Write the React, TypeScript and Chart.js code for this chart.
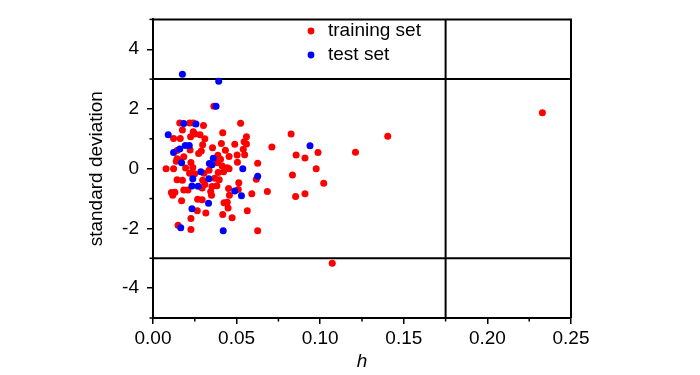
import React, { useEffect, useRef } from "react";
import { Chart, registerables } from "chart.js";

Chart.register(...registerables);

const trainH = [0.0364, 0.0524, 0.016, 0.0219, 0.0241, 0.0302, 0.0176, 0.0241, 0.0251, 0.0281, 0.0417, 0.0225, 0.0123, 0.0163, 0.031, 0.0559, 0.0826, 0.1404, 0.0545, 0.0409, 0.0489, 0.0559, 0.0297, 0.054, 0.0356, 0.0433, 0.0222, 0.0711, 0.0289, 0.0273, 0.0144, 0.0184, 0.0144, 0.0548, 0.0503, 0.0455, 0.0856, 0.0987, 0.1211, 0.0909, 0.2329, 0.0139, 0.0227, 0.0404, 0.0385, 0.0505, 0.0626, 0.0195, 0.0238, 0.0414, 0.0444, 0.0455, 0.0976, 0.0219, 0.0249, 0.0305, 0.039, 0.0422, 0.0834, 0.0144, 0.0176, 0.0297, 0.0369, 0.0396, 0.0618, 0.0513, 0.1021, 0.031, 0.0382, 0.0353, 0.0184, 0.0209, 0.0294, 0.0452, 0.051, 0.0345, 0.011, 0.0131, 0.0118, 0.0684, 0.0591, 0.0909, 0.035, 0.0457, 0.0853, 0.0171, 0.0267, 0.0294, 0.0425, 0.0444, 0.0449, 0.0265, 0.0316, 0.0564, 0.0417, 0.0227, 0.0473, 0.015, 0.0227, 0.0626, 0.1072, 0.0078, 0.0123, 0.0388, 0.0165, 0.0335];
const trainSD = [2.09, 1.52, 1.53, 1.53, 1.53, 1.45, 1.30, 1.24, 1.16, 1.14, 1.20, 1.07, 1.01, 1.01, 1.0, 1.07, 1.16, 1.09, 0.90, 0.84, 0.82, 0.83, 0.80, 0.65, 0.70, 0.62, 0.63, 0.73, 0.59, 0.51, 0.61, 0.40, 0.33, 0.47, 0.46, 0.41, 0.46, 0.54, 0.55, 0.36, 1.87, 0.25, 0.21, 0.32, 0.20, 0.22, 0.18, 0.02, 0.04, 0.09, 0.03, 0.0, 0.0, -0.15, -0.17, -0.15, -0.13, -0.10, -0.21, -0.37, -0.39, -0.39, -0.32, -0.37, -0.35, -0.47, -0.49, -0.53, -0.57, -0.60, -0.71, -0.71, -0.65, -0.66, -0.70, -0.76, -0.80, -0.79, -0.89, -0.76, -0.84, -0.84, -0.89, -0.89, -0.93, -1.07, -1.02, -1.04, -1.14, -1.12, -1.32, -1.41, -1.48, -1.41, -1.53, -1.67, -1.64, -1.89, -2.04, -2.08, -3.17, 0.0, 0.0, 0.45, 0.28, -0.05];
const testH = [0.0176, 0.0393, 0.0377, 0.0091, 0.0184, 0.0257, 0.0123, 0.016, 0.0193, 0.0217, 0.0171, 0.0361, 0.0337, 0.0353, 0.0286, 0.0537, 0.0626, 0.0939, 0.0238, 0.0334, 0.0233, 0.027, 0.0489, 0.0529, 0.0332, 0.0233, 0.0166, 0.042];
const testSD = [3.16, 2.93, 2.09, 1.14, 1.51, 1.50, 0.54, 0.66, 0.78, 0.78, 0.20, 0.35, 0.17, 0.13, -0.10, 0.0, -0.25, 0.77, -0.34, -0.34, -0.58, -0.59, -0.75, -0.91, -1.16, -1.34, -1.98, -2.08];

const xTicks = [0, 0.05, 0.1, 0.15, 0.2, 0.25];
const xMinorTicks = [0.025, 0.075, 0.125, 0.175, 0.225];
const yTicks = [-4, -2, 0, 2, 4];
const yMinorTicks = [-5, -3, -1, 1, 3, 5];
const hLines = [-3, 3];
const vLines = [0.175];
const seriesLabels = ["training set", "test set"];
const seriesColors = ["#ff0000", "#0000ff"];

const FONT = "'Liberation Sans', Arial, sans-serif";
const FS = 19;

const framePlugin = {
  id: "frame",
  beforeDatasetsDraw(chart: any) {
    const { ctx, chartArea: a, scales } = chart;
    ctx.save();
    ctx.strokeStyle = "#000";
    ctx.lineWidth = 2;
    hLines.forEach((v) => {
      const y = scales.y.getPixelForValue(v);
      ctx.beginPath();
      ctx.moveTo(a.left, y);
      ctx.lineTo(a.right, y);
      ctx.stroke();
    });
    vLines.forEach((v) => {
      const x = scales.x.getPixelForValue(v);
      ctx.beginPath();
      ctx.moveTo(x, a.top);
      ctx.lineTo(x, a.bottom);
      ctx.stroke();
    });
    ctx.restore();
  },
  afterDraw(chart: any) {
    const { ctx, chartArea: a, scales } = chart;
    ctx.save();
    ctx.strokeStyle = "#000";
    ctx.lineWidth = 2;
    ctx.beginPath();
    ctx.moveTo(a.left, a.top);
    ctx.lineTo(a.right, a.top);
    ctx.lineTo(a.right, a.bottom);
    ctx.stroke();
    ctx.lineWidth = 1.5;
    xMinorTicks.forEach((v) => {
      const x = scales.x.getPixelForValue(v);
      ctx.beginPath();
      ctx.moveTo(x, a.bottom);
      ctx.lineTo(x, a.bottom + 3.5);
      ctx.stroke();
    });
    yMinorTicks.forEach((v) => {
      const y = scales.y.getPixelForValue(v);
      ctx.beginPath();
      ctx.moveTo(a.left, y);
      ctx.lineTo(a.left - 3.5, y);
      ctx.stroke();
    });
    // legend
    ctx.font = `${FS}px ${FONT}`;
    ctx.textBaseline = "middle";
    ctx.textAlign = "left";
    const lx = 311;
    const ly = [31, 55];
    seriesLabels.forEach((lab, i) => {
      ctx.fillStyle = seriesColors[i];
      ctx.beginPath();
      ctx.arc(lx, ly[i], 3.4, 0, Math.PI * 2);
      ctx.fill();
      ctx.fillStyle = "#000";
      ctx.fillText(lab, 328, ly[i]);
    });
    ctx.restore();
  },
};

export default function App() {
  const ref = useRef<HTMLCanvasElement | null>(null);
  useEffect(() => {
    if (!ref.current) return;
    const chart = new Chart(ref.current, {
      type: "scatter",
      data: {
        datasets: [
          {
            label: seriesLabels[0],
            data: trainH.map((x, i) => ({ x, y: trainSD[i] })),
            backgroundColor: seriesColors[0],
            borderWidth: 0,
            pointRadius: 3.5,
            order: 1,
          },
          {
            label: seriesLabels[1],
            data: testH.map((x, i) => ({ x, y: testSD[i] })),
            backgroundColor: seriesColors[1],
            borderWidth: 0,
            pointRadius: 3.5,
            order: 0,
          },
        ],
      },
      options: {
        animation: false,
        responsive: true,
        maintainAspectRatio: false,
        layout: { padding: { top: 13, right: 129, left: 0, bottom: 0 } },
        plugins: { legend: { display: false }, tooltip: { enabled: false } },
        scales: {
          x: {
            type: "linear",
            min: 0,
            max: 0.25,
            afterBuildTicks: (s: any) => {
              s.ticks = xTicks.map((v) => ({ value: v }));
            },
            afterFit: (s: any) => {
              s.height = 57;
            },
            ticks: {
              color: "#000",
              font: { size: FS, family: FONT },
              padding: 3,
              maxRotation: 0,
              autoSkip: false,
              callback: (v: any) => Number(v).toFixed(2),
            },
            grid: { drawOnChartArea: false, drawTicks: true, tickLength: 6, color: "#000", lineWidth: 1.5 },
            border: { display: true, color: "#000", width: 2 },
            title: {
              display: true,
              text: "h",
              color: "#000",
              font: { size: FS, family: FONT, style: "italic" },
              padding: { top: 0, bottom: 2 },
            },
          },
          y: {
            type: "linear",
            min: -5,
            max: 5,
            afterBuildTicks: (s: any) => {
              s.ticks = yTicks.map((v) => ({ value: v }));
            },
            afterFit: (s: any) => {
              s.width = 153;
            },
            ticks: {
              color: "#000",
              font: { size: FS, family: FONT },
              padding: 8,
              autoSkip: false,
              callback: (v: any) => String(v),
            },
            grid: { drawOnChartArea: false, drawTicks: true, tickLength: 6, color: "#000", lineWidth: 1.5 },
            border: { display: true, color: "#000", width: 2 },
            title: {
              display: true,
              text: "standard deviation",
              color: "#000",
              font: { size: FS, family: FONT },
              padding: { top: 85, bottom: 0 },
            },
          },
        },
      },
      plugins: [framePlugin],
    });
    return () => chart.destroy();
  }, []);
  return (
    <div style={{ position: "absolute", left: 0, top: 0, width: 700, height: 375, background: "#fff" }}>
      <canvas ref={ref} />
    </div>
  );
}
